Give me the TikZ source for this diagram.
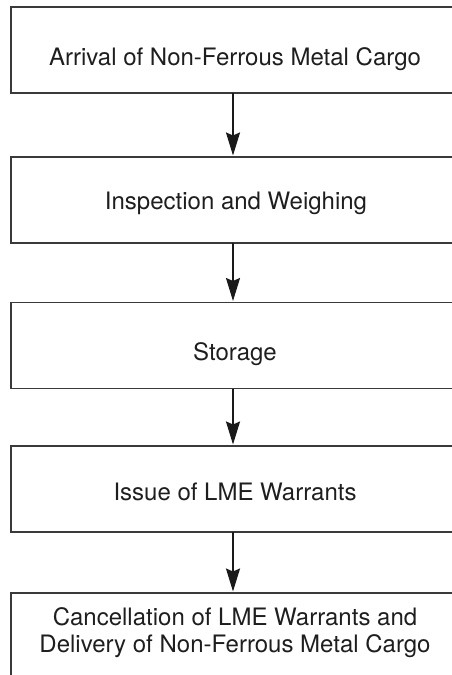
\documentclass[tikz,border=0pt]{standalone}
\usepackage{fontspec}
\setmainfont{TeX Gyre Heros}
\usetikzlibrary{arrows.meta}
\definecolor{boxline}{HTML}{3A3A3A}
\definecolor{arrline}{HTML}{1A1A1A}
\definecolor{txt}{HTML}{1E1E1E}
\tikzset{
  stepbox/.style={draw=boxline, line width=1.3pt, rectangle, minimum width=446pt, minimum height=86pt, inner sep=0pt, outer sep=0pt},
  lbl/.style={anchor=base, inner sep=0pt, text=txt, font=\fontsize{24}{28}\selectfont},
  arr/.style={draw=arrline, line width=1.8pt, -{Stealth[length=23pt, width=14pt, inset=3pt]}, shorten >=1.5pt}
}
\begin{document}
\begin{tikzpicture}[x=1pt, y=-1pt]
\useasboundingbox (0,0) rectangle (452,675);
\clip (0,0) rectangle (452,675);
\node[stepbox] (b1) at (234,50) {};
\node[stepbox] (b2) at (234,200) {};
\node[stepbox] (b3) at (234,345.5) {};
\node[stepbox] (b4) at (234,489) {};
\node[stepbox] (b5) at (234,636) {};
\node[lbl] (t1) at (235,65) {Arrival of Non-Ferrous Metal Cargo};
\node[lbl] (t2) at (236,209) {Inspection and Weighing};
\node[lbl] (t3) at (235,360) {Storage};
\node[lbl] (t4) at (235,500) {Issue of LME Warrants};
\node[lbl] (t5a) at (235,625) {Cancellation of LME Warrants and};
\node[lbl] (t5b) at (235,652) {Delivery of Non-Ferrous Metal Cargo};
\draw[arr] (b1.south -| 233,0) -- (b2.north -| 233,0);
\draw[arr] (b2.south -| 233,0) -- (b3.north -| 233,0);
\draw[arr] (b3.south -| 233,0) -- (b4.north -| 233,0);
\draw[arr] (b4.south -| 233,0) -- (b5.north -| 233,0);
\end{tikzpicture}
\end{document}
